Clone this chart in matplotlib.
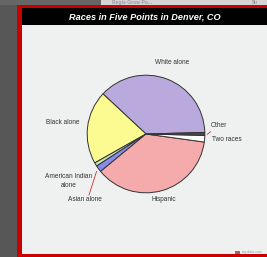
import matplotlib
matplotlib.use("Agg")
import matplotlib.pyplot as plt
from matplotlib.patches import Rectangle

# ---- data ----
categories = ["White alone", "Black alone", "American Indian alone", "Asian alone",
              "Hispanic", "Two races", "Other"]
values = [37.6, 20.1, 1.0, 1.8, 36.8, 1.8, 0.8]
colors = ["#b9a9dc", "#fbfb92", "#c9e3b2", "#8a8aec", "#f5abab", "#ffffff", "#4a4a4a"]
title = "Races in Five Points in Denver, CO"

W, H = 267, 257
fig = plt.figure(figsize=(W / 100, H / 100), dpi=100)
fig.patch.set_facecolor("#eef1f0")

bg = fig.add_axes([0, 0, 1, 1])
bg.set_xlim(0, W)
bg.set_ylim(H, 0)
bg.axis("off")

# surrounding screenshot
bg.add_patch(Rectangle((0, 0), 17.3, H, color="#575757", lw=0))
bg.add_patch(Rectangle((0, 0), 101, 5.2, color="#666666", lw=0))
bg.add_patch(Rectangle((101, 0), W - 101, 5.2, color="#d4d4d4", lw=0))
bg.text(112, 2.6, "Regis Grow Po...", fontsize=3.6, fontweight="bold", color="#8a8a9a",
        family="Liberation Sans", va="center", ha="left", alpha=0.8)
bg.text(252, 2.6, "Str", fontsize=3.4, color="#777777", family="Liberation Sans",
        va="center", ha="left")
# red frame
bg.add_patch(Rectangle((17.3, 5.2), W - 17.3, 3.2, color="#c80000", lw=0))
bg.add_patch(Rectangle((17.3, 5.2), 4.2, H - 5.2, color="#c80000", lw=0))
bg.add_patch(Rectangle((17.3, 253.5), W - 17.3, 3.5, color="#c80000", lw=0))
# title bar
bg.add_patch(Rectangle((21.5, 8.4), W - 21.5, 16.8, color="#000000", lw=0))
bg.text(145, 16.8, title, fontsize=6.6, fontweight="bold", fontstyle="italic",
        color="white", family="Liberation Sans", ha="center", va="center")
# chart background
bg.add_patch(Rectangle((21.5, 25.2), W - 21.5, 253.5 - 25.2, color="#eef1f0", lw=0))

# logo
bg.add_patch(Rectangle((235, 250.5), 5, 3, color="#b06060", lw=0))
bg.text(242, 252, "city-data.com", fontsize=2.5, color="#9a9aa8", ha="left", va="center",
        family="Liberation Sans")

# pie
cx, cy, r = 146, 134, 60
ax = fig.add_axes([(cx - r) / W, (H - cy - r) / H, 2 * r / W, 2 * r / H])
ax.pie(values, colors=colors, startangle=1.5, counterclock=True,
       wedgeprops=dict(edgecolor="#333333", linewidth=0.7), radius=1)
ax.set_xlim(-1.02, 1.02)
ax.set_ylim(-1.02, 1.02)
ax.axis("off")

lab = dict(fontsize=4.7, color="#333333", family="Liberation Sans", va="center")
bg.text(172, 62.3, "White alone", ha="center", **lab)
bg.text(62.5, 122.3, "Black alone", ha="center", **lab)
bg.text(210.5, 125.5, "Other", ha="left", **lab)
bg.text(211.5, 139.5, "Two races", ha="left", **lab)
bg.text(68.5, 176.0, "American Indian", ha="center", **lab)
bg.text(68.5, 185.8, "alone", ha="center", **lab)
bg.text(84.5, 199.5, "Asian alone", ha="center", **lab)
bg.text(164, 199.5, "Hispanic", ha="center", **lab)

# leader lines
bg.plot([207.3, 210.5], [134.3, 131.8], color="#d03030", lw=0.6)
bg.plot([89, 96.5], [195, 171.5], color="#d03030", lw=0.6)

fig.savefig("out.png", dpi=100, facecolor=fig.get_facecolor())
